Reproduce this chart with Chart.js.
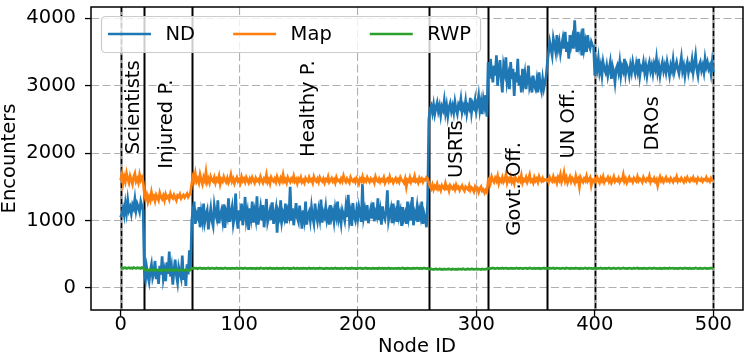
<!DOCTYPE html>
<html>
<head>
<meta charset="utf-8">
<script src="https://cdn.jsdelivr.net/npm/chart.js@4.4.1/dist/chart.umd.min.js"></script>
<style>
  html, body { margin: 0; padding: 0; background: #fff; }
  #wrap { width: 748px; height: 359px; }
</style>
</head>
<body>
<div id="wrap"><canvas id="chart" width="748" height="359"></canvas></div>
<script>
// groups of nodes, boundaries and where their names sit (data units)
const groupNames = ['Scientists', 'Injured P.', 'Healthy P.', 'USRTs', 'Govt. Off.', 'UN Off.', 'DROs'];
const groupBounds = [0, 20, 60, 260, 310, 360, 400, 500];
const dashedBounds = [0, 400, 500];
const labelX = [11, 39, 159, 284, 333, 378, 449];
const labelY = [2680, 2430, 2660, 2060, 1470, 2440, 2440];
const seriesNames = ['ND', 'Map', 'RWP'];
const yTicks = [0, 1000, 2000, 3000, 4000];

// ND encounters per node, split by group
const ndScientists = [1050, 1100, 1180, 1080, 1250, 1120, 1300, 1150, 1200, 1100, 1230, 1180, 1320, 1150, 1250, 1200, 1130, 1280, 1210, 1150];
const ndInjured = [
  250, 120, 300, 180, 90, 260, 350, 150, 220, 400,
  130, 280, 60, 330, 200, 470, 140, 250, 100, 380,
  210, 540, 170, 300, 50, 260, 420, 190, 80, 310,
  230, 150, 480, 120, 270, 30, 350, 200, 560, 250];
const ndHealthy = [
  1000, 1150, 1280, 950, 1100, 1050, 1200, 900, 1120, 1000,
  1250, 980, 1080, 1150, 870, 1050, 1180, 1000, 920, 1220,
  1100, 1030, 1300, 960, 1080, 1150, 1010, 1240, 890, 1120,
  1050, 1330, 980, 1100, 1200, 950, 1060, 1400, 1020, 880,
  1150, 1000, 1250, 930, 1080, 1350, 1010, 1120, 860, 1180,
  1050, 1280, 970, 1130, 1020, 1360, 940, 1090, 1200, 1000,
  1230, 900, 1100, 1320, 980, 1060, 1150, 1010, 1270, 950,
  1080, 1180, 820, 1120, 1050, 1300, 990, 1100, 1030, 1250,
  960, 1140, 1070, 1500, 1000, 1180, 930, 1100, 1260, 1040,
  980, 1220, 1060, 880, 1150, 1020, 1280, 940, 1080, 1130,
  1000, 1200, 1050, 960, 1250, 1080, 990, 1150, 1030, 1310,
  970, 1120, 1060, 1200, 1010, 1100, 940, 1230, 1050, 1130,
  990, 1180, 1070, 1280, 1020, 1100, 960, 1150, 1080, 1000,
  1200, 1050, 1380, 1010, 1120, 920, 1260, 1060, 1000, 1150,
  1030, 1200, 1100, 980, 1540, 1050, 1150, 1000, 1230, 960,
  1100, 1180, 1030, 1270, 990, 1120, 1060, 1330, 1010, 1140,
  940, 1210, 1070, 1020, 1150, 1450, 1000, 1100, 1180, 960,
  1250, 1040, 1120, 980, 1300, 1060, 1140, 920, 1200, 1030,
  1100, 950, 1280, 1050, 1160, 1000, 1350, 930, 1120, 1060,
  1200, 980, 1150, 1060, 1280, 950, 1100, 1020, 900, 1300];
const ndUsrts = [
  2500, 2650, 2700, 2600, 2720, 2580, 2680, 2750, 2620, 2700,
  2560, 2690, 2640, 2780, 2600, 2710, 2550, 2680, 2740, 2620,
  2700, 2600, 2760, 2650, 2580, 2720, 2680, 2800, 2610, 2700,
  2640, 2770, 2590, 2700, 2660, 2820, 2600, 2730, 2680, 2790,
  2620, 2720, 2850, 2640, 2760, 2580, 2800, 2700, 2860, 2540];
const ndGovt = [
  3350, 3100, 3400, 3200, 3050, 3300, 3150, 3450, 3000, 3250,
  3380, 3100, 2900, 3300, 3200, 3420, 3050, 3150, 2950, 3350,
  3100, 3250, 2850, 3200, 3050, 3400, 3000, 3150, 2900, 3250,
  3050, 3180, 2950, 3100, 3300, 2980, 3050, 2900, 3150, 3000,
  2950, 3080, 2900, 3200, 3000, 2920, 3100, 2960, 3050, 3150];
const ndUn = [
  3350, 3500, 3650, 3550, 3450, 3700, 3600, 3500, 3750, 3550,
  3650, 3480, 3600, 3700, 3550, 3800, 3500, 3650, 3400, 3750,
  3600, 3700, 3550, 3970, 3650, 3500, 3800, 3600, 3700, 3450,
  3850, 3550, 3650, 3500, 3750, 3600, 3550, 3650, 3600, 3580];
const ndDros = [
  3150, 3350, 3250, 3400, 3200, 3300, 3150, 3350, 3250, 3200,
  3300, 3150, 3250, 3350, 3100, 3280, 3200, 3050, 3250, 3300,
  3200, 3350, 3150, 3280, 3220, 3400, 3180, 3300, 3250, 3150,
  3300, 3200, 3350, 3250, 3180, 3320, 3220, 3400, 3150, 3280,
  3250, 3350, 3200, 3300, 3150, 3280, 3350, 3220, 3300, 3180,
  3320, 3250, 3400, 3200, 3300, 3150, 3270, 3350, 3220, 3300,
  3200, 3350, 3250, 3150, 3300, 3230, 3380, 3200, 3280, 3350,
  3250, 3180, 3300, 3420, 3220, 3300, 3150, 3280, 3350, 3200,
  3300, 3250, 3380, 3200, 3320, 3450, 3250, 3150, 3300, 3350,
  3230, 3300, 3200, 3400, 3280, 3350, 3250, 3300, 3180, 3350,
  3200];

// Map encounters per node
const mapScientists = [1600, 1680, 1550, 1650, 1580, 1700, 1620, 1560, 1660, 1600, 1540, 1650, 1700, 1580, 1620, 1560, 1680, 1600, 1640, 1580];
const mapInjured = [
  1400, 1320, 1380, 1280, 1350, 1300, 1420, 1330, 1360, 1290,
  1380, 1340, 1300, 1410, 1350, 1320, 1370, 1300, 1390, 1340,
  1360, 1310, 1400, 1350, 1330, 1380, 1340, 1300, 1370, 1350,
  1390, 1330, 1360, 1380, 1340, 1370, 1400, 1350, 1380, 1420];
const mapHealthy = [
  1550, 1650, 1600, 1700, 1580, 1620, 1560, 1680, 1600, 1540,
  1640, 1590, 1720, 1570, 1620, 1560, 1650, 1600, 1580, 1640,
  1560, 1620, 1590, 1660, 1540, 1610, 1580, 1650, 1600, 1570,
  1630, 1560, 1600, 1680, 1580, 1620, 1550, 1600, 1640, 1580,
  1610, 1560, 1650, 1590, 1620, 1570, 1640, 1600, 1560, 1620,
  1580, 1640, 1600, 1560, 1630, 1590, 1610, 1570, 1650, 1600,
  1560, 1620, 1590, 1680, 1570, 1610, 1550, 1640, 1600, 1580,
  1620, 1570, 1650, 1600, 1560, 1630, 1590, 1680, 1580, 1610,
  1560, 1640, 1600, 1570, 1620, 1590, 1660, 1580, 1610, 1550,
  1620, 1590, 1640, 1570, 1600, 1560, 1630, 1600, 1580, 1640,
  1590, 1610, 1560, 1650, 1600, 1580, 1620, 1570, 1640, 1600,
  1580, 1620, 1560, 1610, 1590, 1650, 1570, 1600, 1630, 1580,
  1610, 1560, 1640, 1590, 1600, 1570, 1620, 1580, 1660, 1600,
  1570, 1620, 1590, 1560, 1640, 1600, 1580, 1610, 1570, 1630,
  1600, 1550, 1620, 1590, 1650, 1570, 1610, 1580, 1640, 1600,
  1570, 1620, 1590, 1610, 1560, 1650, 1600, 1580, 1620, 1570,
  1610, 1590, 1640, 1560, 1600, 1620, 1580, 1650, 1590, 1610,
  1560, 1600, 1630, 1580, 1610, 1570, 1640, 1600, 1590, 1560,
  1620, 1500, 1600, 1580, 1640, 1570, 1610, 1590, 1660, 1580,
  1600, 1560, 1630, 1590, 1620, 1570, 1610, 1600, 1640, 1620];
const mapUsrts = [
  1560, 1500, 1470, 1530, 1460, 1510, 1480, 1540, 1470, 1500,
  1450, 1520, 1490, 1470, 1550, 1480, 1500, 1440, 1520, 1490,
  1470, 1510, 1460, 1530, 1480, 1500, 1450, 1490, 1520, 1470,
  1440, 1500, 1480, 1460, 1520, 1450, 1490, 1470, 1430, 1500,
  1460, 1480, 1420, 1470, 1500, 1440, 1460, 1410, 1450, 1420];
const mapGovt = [
  1580, 1620, 1560, 1650, 1600, 1570, 1630, 1590, 1660, 1550,
  1610, 1580, 1640, 1570, 1600, 1680, 1560, 1620, 1590, 1650,
  1570, 1610, 1550, 1640, 1600, 1580, 1630, 1590, 1670, 1560,
  1610, 1590, 1640, 1570, 1620, 1680, 1580, 1600, 1560, 1640,
  1590, 1620, 1570, 1650, 1600, 1580, 1630, 1590, 1610, 1600];
const mapUn = [
  1610, 1570, 1640, 1600, 1580, 1650, 1590, 1620, 1560, 1640,
  1600, 1680, 1570, 1620, 1710, 1590, 1640, 1560, 1610, 1650,
  1580, 1630, 1600, 1560, 1660, 1590, 1620, 1500, 1640, 1600,
  1570, 1620, 1590, 1660, 1580, 1610, 1640, 1520, 1600, 1580];
const mapDros = [
  1620, 1580, 1640, 1600, 1560, 1630, 1590, 1650, 1570, 1610,
  1600, 1640, 1580, 1620, 1560, 1600, 1650, 1580, 1610, 1590,
  1630, 1570, 1610, 1600, 1680, 1580, 1620, 1560, 1600, 1640,
  1590, 1610, 1570, 1630, 1600, 1580, 1650, 1590, 1620, 1600,
  1570, 1640, 1600, 1580, 1620, 1600, 1660, 1570, 1610, 1590,
  1630, 1580, 1610, 1520, 1600, 1650, 1590, 1620, 1570, 1600,
  1640, 1590, 1610, 1580, 1630, 1600, 1570, 1620, 1600, 1650,
  1580, 1610, 1590, 1630, 1600, 1570, 1620, 1590, 1640, 1600,
  1580, 1620, 1600, 1640, 1590, 1610, 1570, 1630, 1600, 1590,
  1620, 1580, 1610, 1600, 1640, 1590, 1610, 1580, 1630, 1600,
  1610];

// RWP encounters per node
const rwpScientists = [295, 300, 290, 298, 302, 288, 296, 300, 292, 298, 290, 304, 296, 292, 300, 294, 298, 290, 302, 296];
const rwpInjured = [
  270, 262, 268, 258, 265, 272, 260, 266, 270, 258,
  264, 268, 262, 270, 256, 266, 262, 268, 260, 264,
  270, 258, 266, 262, 268, 260, 264, 270, 262, 258,
  266, 264, 268, 260, 262, 270, 264, 258, 266, 268];
const rwpHealthy = [
  292, 288, 296, 290, 294, 286, 292, 298, 290, 288,
  294, 290, 286, 292, 296, 288, 290, 294, 292, 286,
  290, 296, 288, 292, 290, 294, 286, 290, 296, 292,
  288, 292, 290, 286, 294, 290, 292, 288, 296, 290,
  286, 292, 294, 288, 290, 296, 290, 286, 292, 290,
  294, 288, 290, 292, 286, 294, 290, 288, 296, 292,
  290, 286, 292, 294, 288, 290, 296, 290, 288, 292,
  286, 290, 294, 288, 292, 290, 286, 296, 290, 288,
  292, 294, 288, 290, 286, 292, 296, 288, 290, 294,
  290, 286, 292, 288, 294, 290, 292, 286, 290, 296,
  288, 292, 290, 294, 286, 290, 292, 288, 296, 290,
  292, 288, 286, 294, 290, 292, 288, 290, 294, 286,
  290, 296, 288, 292, 290, 286, 294, 290, 288, 292,
  294, 290, 286, 292, 288, 296, 290, 292, 286, 290,
  288, 292, 294, 290, 286, 292, 290, 296, 288, 290,
  292, 286, 290, 294, 288, 290, 292, 286, 296, 290,
  290, 294, 288, 292, 286, 290, 296, 288, 290, 292,
  286, 292, 290, 288, 294, 290, 286, 292, 296, 288,
  290, 288, 294, 290, 292, 286, 290, 294, 288, 292,
  294, 290, 286, 292, 288, 290, 296, 290, 288, 292];
const rwpUsrts = [
  280, 276, 282, 278, 274, 280, 284, 276, 278, 282,
  276, 280, 274, 282, 278, 276, 280, 284, 278, 274,
  282, 278, 276, 280, 274, 282, 278, 280, 276, 284,
  278, 274, 280, 282, 276, 278, 284, 280, 276, 278,
  282, 276, 280, 278, 274, 282, 278, 276, 280, 282];
const rwpGovt = [
  290, 294, 288, 292, 296, 290, 286, 292, 294, 288,
  292, 290, 296, 288, 292, 294, 290, 286, 292, 290,
  294, 288, 292, 290, 296, 290, 288, 294, 292, 286,
  290, 292, 294, 288, 290, 296, 292, 288, 290, 294,
  288, 292, 290, 294, 286, 292, 290, 296, 288, 292];
const rwpUn = [
  292, 288, 294, 290, 292, 296, 288, 290, 294, 292,
  290, 286, 292, 294, 290, 288, 296, 292, 290, 288,
  294, 290, 292, 288, 296, 290, 292, 286, 294, 290,
  288, 292, 296, 290, 288, 294, 292, 290, 286, 292];
const rwpDros = [
  290, 294, 288, 292, 290, 296, 288, 292, 290, 294,
  288, 292, 296, 290, 286, 292, 294, 290, 288, 292,
  294, 290, 288, 292, 296, 290, 292, 286, 290, 294,
  292, 288, 290, 294, 290, 292, 296, 288, 290, 292,
  288, 294, 290, 292, 286, 290, 294, 292, 288, 290,
  296, 290, 292, 288, 290, 294, 286, 292, 290, 294,
  290, 292, 288, 296, 290, 292, 294, 288, 290, 292,
  286, 290, 294, 292, 288, 290, 296, 290, 292, 288,
  294, 290, 288, 292, 290, 296, 292, 288, 290, 294,
  290, 288, 292, 294, 290, 286, 292, 290, 296, 290,
  292];

const nd = [].concat(ndScientists, ndInjured, ndHealthy, ndUsrts, ndGovt, ndUn, ndDros);
const mapSeries = [].concat(mapScientists, mapInjured, mapHealthy, mapUsrts, mapGovt, mapUn, mapDros);
const rwp = [].concat(rwpScientists, rwpInjured, rwpHealthy, rwpUsrts, rwpGovt, rwpUn, rwpDros);

const COLORS = ['#1f77b4', '#ff7f0e', '#2ca02c'];
const FONT = 'DejaVu Sans';
const FS = 19.5;

Chart.defaults.font.family = FONT;
Chart.defaults.color = '#000';

const toPoints = arr => arr.map((v, i) => ({ x: i, y: v }));

// vertical group lines, group names, axes frame and legend
const overlay = {
  id: 'overlay',
  beforeDatasetsDraw(chart) {
    const { ctx, chartArea, scales } = chart;
    ctx.save();
    groupBounds.forEach(b => {
      const px = Math.round(scales.x.getPixelForValue(b)) + 0.5;
      ctx.beginPath();
      ctx.moveTo(px, chartArea.top);
      ctx.lineTo(px, chartArea.bottom);
      if (dashedBounds.includes(b)) {
        ctx.strokeStyle = '#9a9a9a';
        ctx.lineWidth = 2.4;
        ctx.setLineDash([]);
        ctx.stroke();
        ctx.strokeStyle = '#000';
        ctx.lineWidth = 1.4;
        ctx.setLineDash([5, 3]);
        ctx.stroke();
      } else {
        ctx.strokeStyle = '#000';
        ctx.lineWidth = 2;
        ctx.setLineDash([]);
        ctx.stroke();
      }
    });
    ctx.restore();
  },
  afterDatasetsDraw(chart) {
    const { ctx, scales } = chart;
    ctx.save();
    ctx.fillStyle = '#000';
    ctx.font = `${FS}px ${FONT}`;
    ctx.textAlign = 'center';
    ctx.textBaseline = 'middle';
    groupNames.forEach((name, i) => {
      ctx.save();
      ctx.translate(scales.x.getPixelForValue(labelX[i]), scales.y.getPixelForValue(labelY[i]));
      ctx.rotate(-Math.PI / 2);
      ctx.fillText(name, 0, 0);
      ctx.restore();
    });
    ctx.restore();
  },
  afterDraw(chart) {
    const { ctx, chartArea } = chart;
    ctx.save();
    // axes box
    ctx.strokeStyle = '#000';
    ctx.lineWidth = 1.5;
    ctx.strokeRect(chartArea.left, chartArea.top, chartArea.right - chartArea.left, chartArea.bottom - chartArea.top);

    // legend
    ctx.font = `${FS}px ${FONT}`;
    let x = 108;
    const y = 34;
    const items = chart.data.datasets.map(ds => ({ label: ds.label, color: ds.borderColor }));
    const widths = items.map(it => ctx.measureText(it.label).width);
    let total = 0;
    widths.forEach(w => { total += 43 + 14.5 + w; });
    total += 2 * 38;
    ctx.beginPath();
    ctx.roundRect(101.5, 16.5, total + 16, 36, 4);
    ctx.fillStyle = 'rgba(255,255,255,0.8)';
    ctx.fill();
    ctx.strokeStyle = '#cccccc';
    ctx.lineWidth = 1.2;
    ctx.stroke();
    items.forEach((it, i) => {
      ctx.beginPath();
      ctx.moveTo(x, y);
      ctx.lineTo(x + 43, y);
      ctx.strokeStyle = it.color;
      ctx.lineWidth = 2.6;
      ctx.stroke();
      ctx.fillStyle = '#000';
      ctx.textAlign = 'left';
      ctx.textBaseline = 'middle';
      ctx.fillText(it.label, x + 57.5, y + 1);
      x += 57.5 + widths[i] + 38;
    });
    ctx.restore();
  }
};

new Chart(document.getElementById('chart'), {
  type: 'line',
  data: {
    datasets: [
      { label: seriesNames[0], data: toPoints(nd), borderColor: COLORS[0], order: 3 },
      { label: seriesNames[1], data: toPoints(mapSeries), borderColor: COLORS[1], order: 2 },
      { label: seriesNames[2], data: toPoints(rwp), borderColor: COLORS[2], order: 1 },
    ],
  },
  options: {
    responsive: false,
    animation: false,
    layout: { padding: { left: 0, right: 5, top: 7, bottom: 0 } },
    elements: {
      point: { radius: 0 },
      line: { borderWidth: 2.7, tension: 0, fill: false },
    },
    plugins: {
      legend: { display: false },
      tooltip: { enabled: false },
    },
    scales: {
      x: {
        type: 'linear',
        min: -25,
        max: 525,
        ticks: { stepSize: 100, includeBounds: false, color: '#000', font: { size: FS }, padding: -3, maxRotation: 0 },
        grid: { color: '#b0b0b0', lineWidth: 1.1, tickColor: '#000', tickLength: 6, tickWidth: 1.3 },
        border: { display: false, dash: [8, 3.5] },
        title: { display: true, text: 'Node ID', color: '#000', font: { size: FS, lineHeight: 1 }, padding: { top: 0, bottom: 2 } },
        afterFit(scale) { scale.height = 49; scale.paddingLeft = 0; scale.paddingRight = 0; },
      },
      y: {
        type: 'linear',
        min: -327,
        max: 4168,
        ticks: { color: '#000', font: { size: FS }, padding: 9, callback: v => String(v) },
        grid: { color: '#b0b0b0', lineWidth: 1.1, tickColor: '#000', tickLength: 6, tickWidth: 1.3 },
        border: { display: false, dash: [8, 3.5] },
        title: { display: true, text: 'Encounters', color: '#000', font: { size: FS, lineHeight: 1 }, padding: { top: 0, bottom: 0 } },
        afterBuildTicks(scale) { scale.ticks = yTicks.map(v => ({ value: v })); },
        afterFit(scale) { scale.width = 91; scale.paddingTop = 0; scale.paddingBottom = 0; },
      },
    },
  },
  plugins: [overlay],
});
</script>
</body>
</html>
